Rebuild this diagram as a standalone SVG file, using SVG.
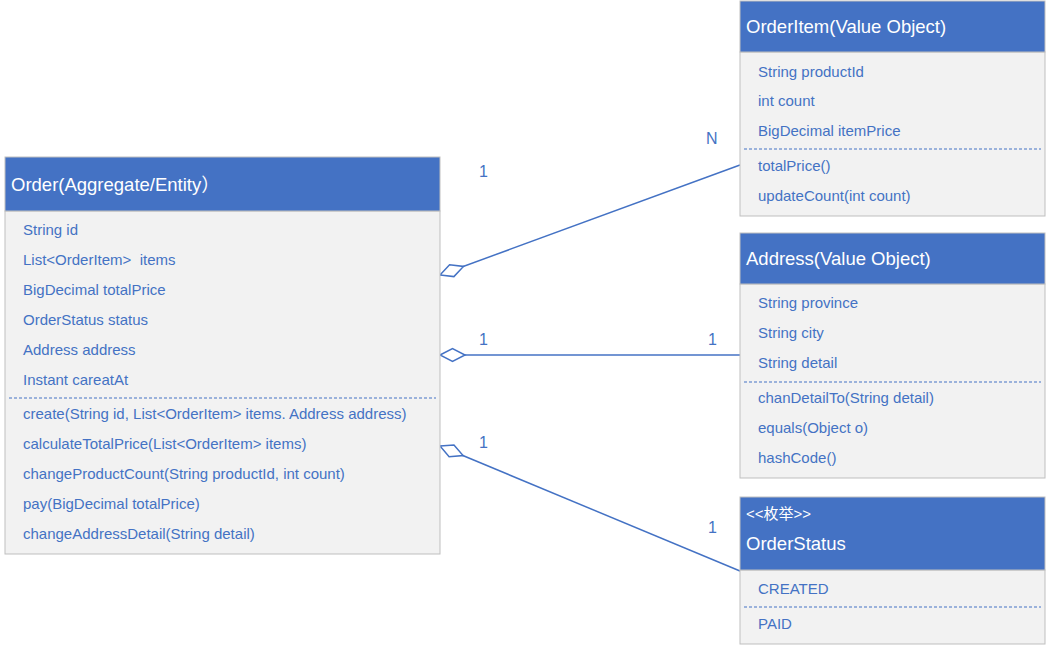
<svg xmlns="http://www.w3.org/2000/svg" width="1047" height="645" viewBox="0 0 1047 645">
<style>
.hdr{fill:#4472C4;stroke:#BFBFBF;stroke-width:1}
.body{fill:#F2F2F2;stroke:#BFBFBF;stroke-width:1}
.title{font-family:"Liberation Sans","Noto Sans CJK SC",sans-serif;font-size:18.5px;fill:#FFFFFF}
.stereo{font-family:"Liberation Sans","Noto Sans CJK SC",sans-serif;font-size:15px;fill:#FFFFFF}
.t{font-family:"Liberation Sans",sans-serif;font-size:15px;fill:#4472C4;white-space:pre}
.sep{stroke:#4472C4;stroke-width:1;stroke-dasharray:3 2;fill:none}
.conn{stroke:#4472C4;stroke-width:1.5;fill:none}
.mult{font-family:"Liberation Sans",sans-serif;font-size:16px;fill:#4472C4}
</style>
<defs>
<marker id="diamond" markerUnits="userSpaceOnUse" markerWidth="28" markerHeight="16" refX="1" refY="8" orient="auto" viewBox="0 0 28 16">
<path d="M1,8 L13.5,1.7 L26,8 L13.5,14.3 Z" fill="#FFFFFF" stroke="#4472C4" stroke-width="1.5"/>
</marker>
</defs>
<rect x="0" y="0" width="1047" height="645" fill="#FFFFFF"/>

<g id="connectors">
<path class="conn" d="M440,275 L740,165" marker-start="url(#diamond)"/>
<path class="conn" d="M440,355 L740,355" marker-start="url(#diamond)"/>
<path class="conn" d="M440,446 L740,571" marker-start="url(#diamond)"/>
<text class="mult" x="479" y="177">1</text>
<text class="mult" x="706" y="144">N</text>
<text class="mult" x="479" y="345">1</text>
<text class="mult" x="708" y="345">1</text>
<text class="mult" x="479" y="448">1</text>
<text class="mult" x="708" y="533">1</text>
</g>

<g id="order">
<rect class="body" x="5" y="211" width="435" height="343"/>
<rect class="hdr" x="5" y="157" width="435" height="54"/>
<text class="title" x="11" y="191">Order(Aggregate/Entity）</text>
<text class="t" x="23" y="235">String id</text>
<text class="t" x="23" y="265">List&lt;OrderItem&gt;  items</text>
<text class="t" x="23" y="295">BigDecimal totalPrice</text>
<text class="t" x="23" y="325">OrderStatus status</text>
<text class="t" x="23" y="355">Address address</text>
<text class="t" x="23" y="385">Instant careatAt</text>
<line class="sep" x1="9" y1="398" x2="436" y2="398"/>
<text class="t" x="23" y="419">create(String id, List&lt;OrderItem&gt; items. Address address)</text>
<text class="t" x="23" y="449">calculateTotalPrice(List&lt;OrderItem&gt; items)</text>
<text class="t" x="23" y="479">changeProductCount(String productId, int count)</text>
<text class="t" x="23" y="509">pay(BigDecimal totalPrice)</text>
<text class="t" x="23" y="539">changeAddressDetail(String detail)</text>
</g>

<g id="orderitem">
<rect class="body" x="740" y="52" width="305" height="164"/>
<rect class="hdr" x="740" y="1" width="305" height="51"/>
<text class="title" x="746" y="33">OrderItem(Value Object)</text>
<text class="t" x="758" y="77">String productId</text>
<text class="t" x="758" y="106">int count</text>
<text class="t" x="758" y="136">BigDecimal itemPrice</text>
<line class="sep" x1="744" y1="149" x2="1041" y2="149"/>
<text class="t" x="758" y="171">totalPrice()</text>
<text class="t" x="758" y="201">updateCount(int count)</text>
</g>

<g id="address">
<rect class="body" x="740" y="284" width="305" height="194"/>
<rect class="hdr" x="740" y="233" width="305" height="51"/>
<text class="title" x="746" y="265">Address(Value Object)</text>
<text class="t" x="758" y="308">String province</text>
<text class="t" x="758" y="338">String city</text>
<text class="t" x="758" y="368">String detail</text>
<line class="sep" x1="744" y1="382" x2="1041" y2="382"/>
<text class="t" x="758" y="403">chanDetailTo(String detail)</text>
<text class="t" x="758" y="433">equals(Object o)</text>
<text class="t" x="758" y="463">hashCode()</text>
</g>

<g id="orderstatus">
<rect class="body" x="740" y="570" width="305" height="74"/>
<rect class="hdr" x="740" y="497" width="305" height="73"/>
<text class="stereo" x="746" y="519">&lt;&lt;枚举&gt;&gt;</text>
<text class="title" x="746" y="550">OrderStatus</text>
<text class="t" x="758" y="594">CREATED</text>
<line class="sep" x1="744" y1="607" x2="1041" y2="607"/>
<text class="t" x="758" y="629">PAID</text>
</g>
</svg>
